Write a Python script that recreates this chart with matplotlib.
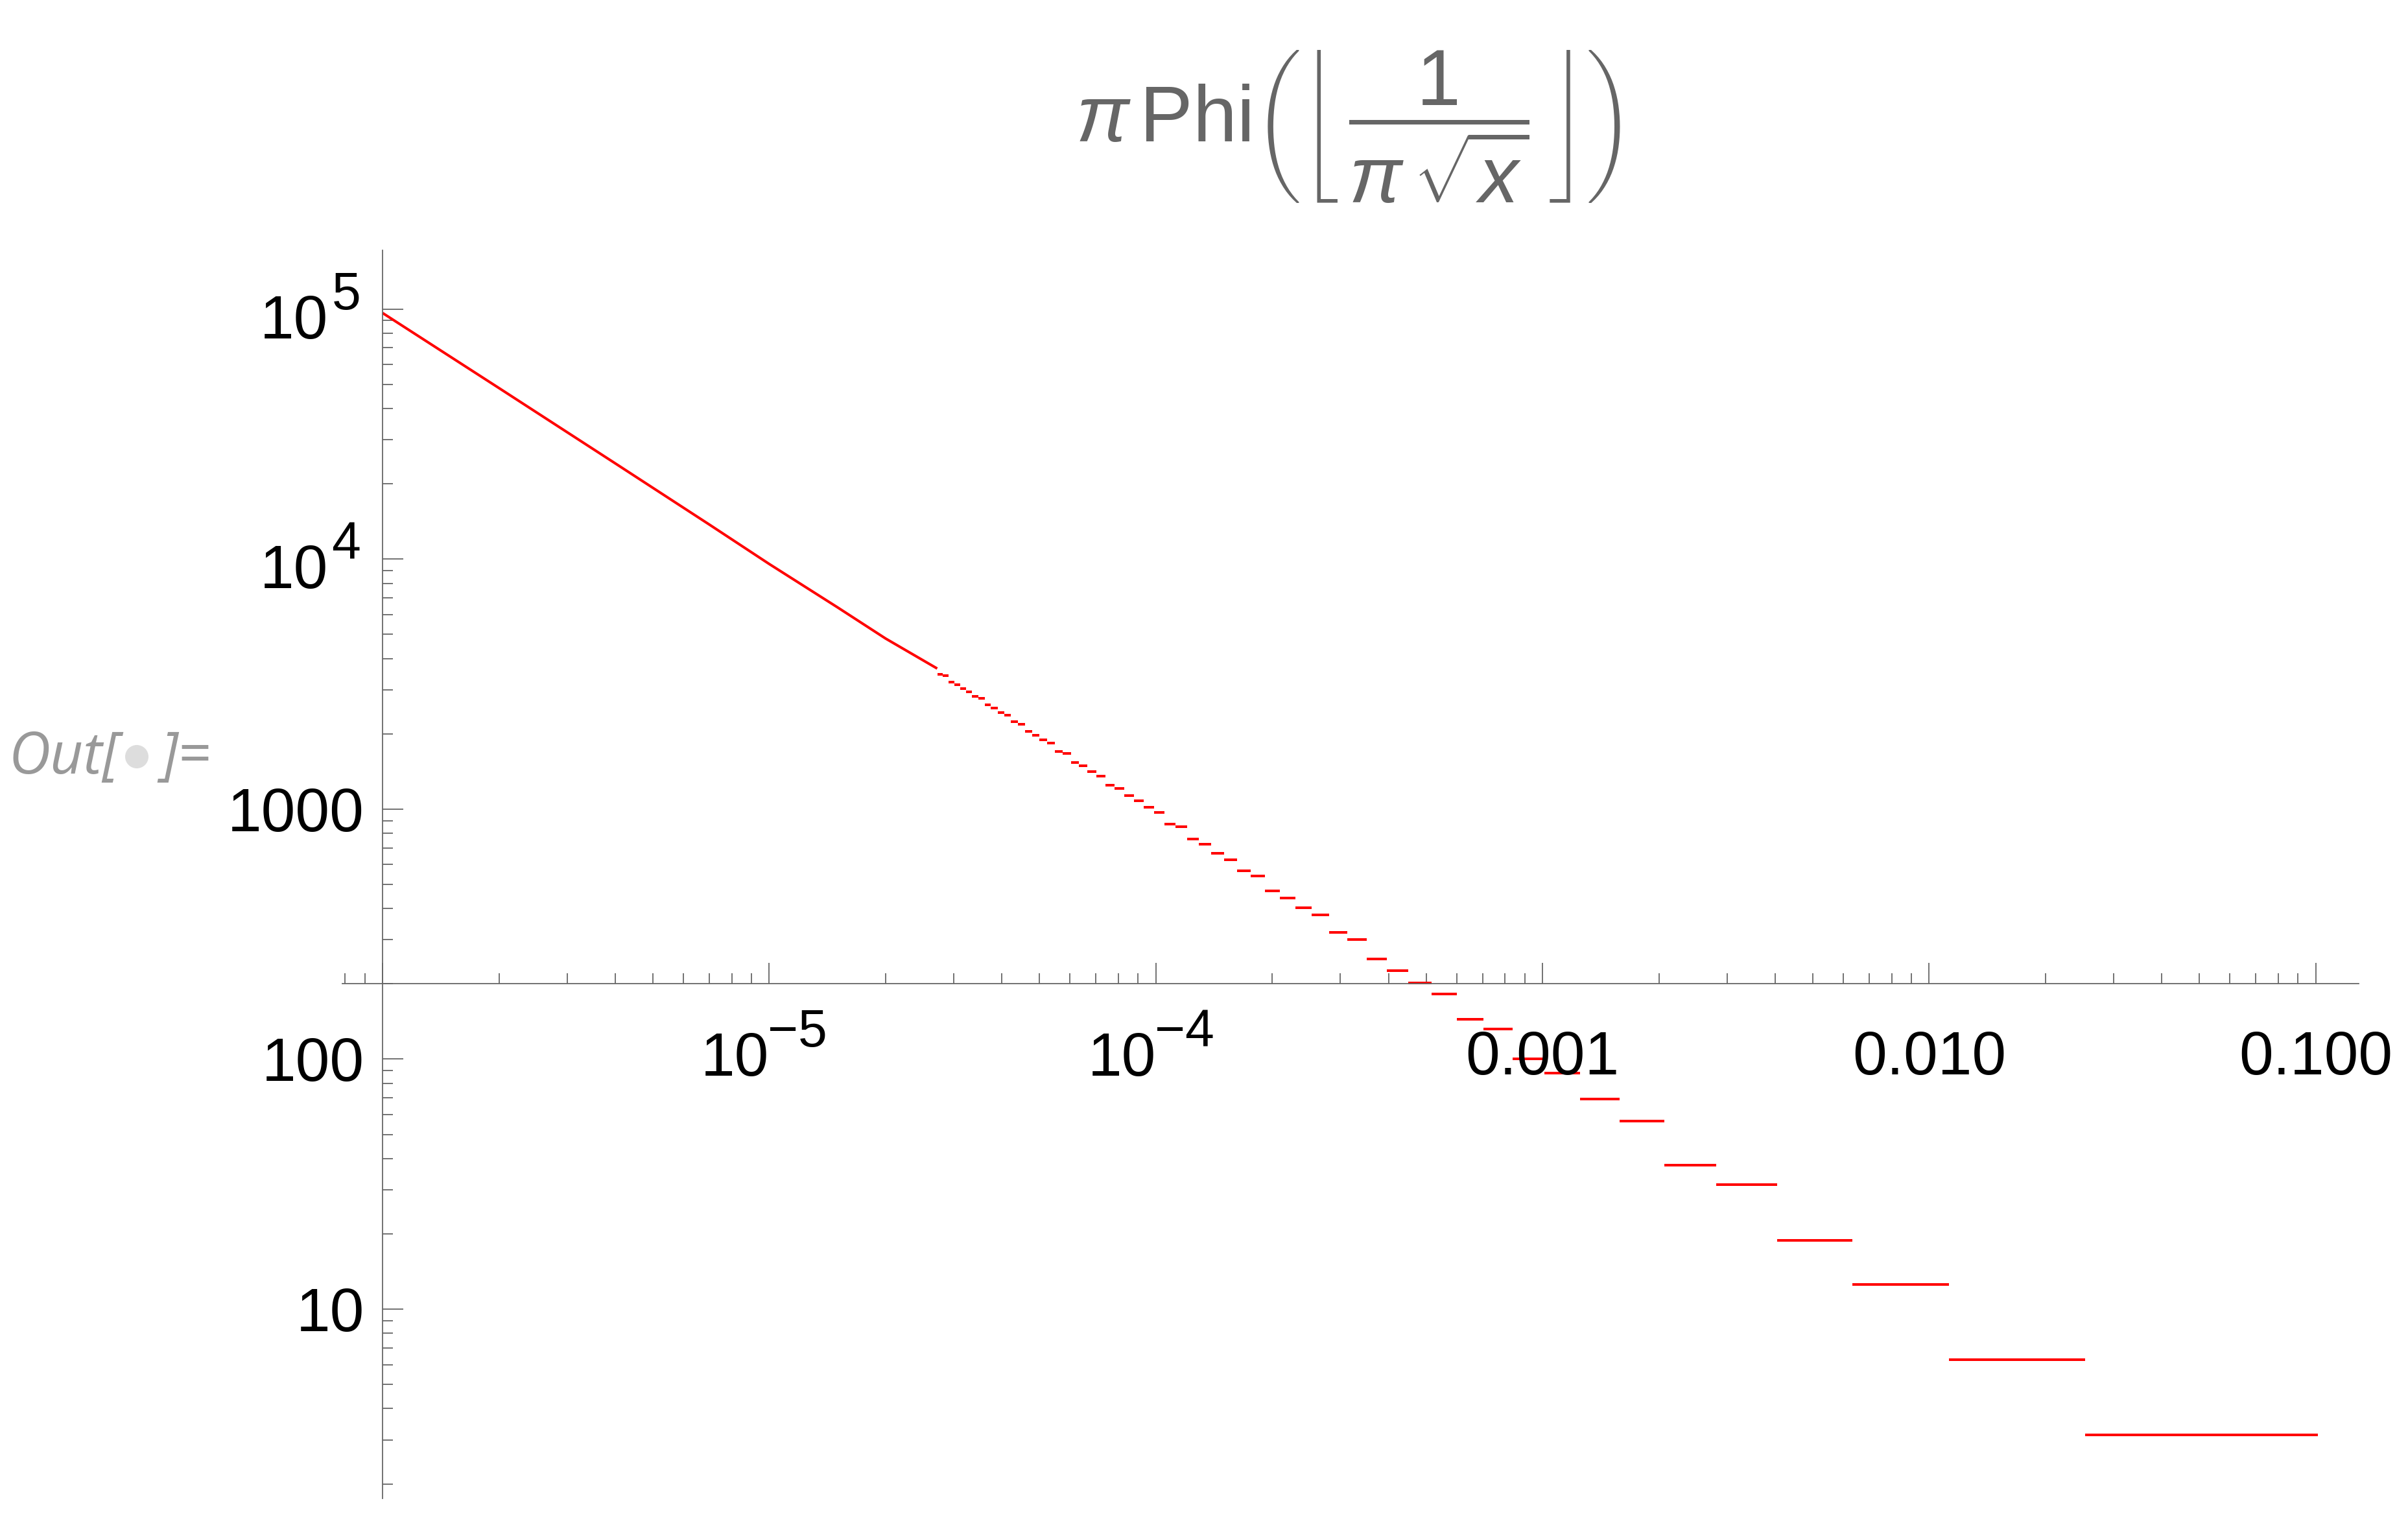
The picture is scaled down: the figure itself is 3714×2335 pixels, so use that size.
import numpy as np
import matplotlib
matplotlib.use("Agg")
import matplotlib.pyplot as plt
from matplotlib.ticker import LogLocator, NullFormatter, FixedLocator
from matplotlib.patches import Circle

plt.rcParams['font.family'] = ['Liberation Sans', 'DejaVu Sans']
plt.rcParams['mathtext.fontset'] = 'custom'
plt.rcParams['mathtext.rm'] = 'Liberation Sans'
plt.rcParams['mathtext.it'] = 'Liberation Sans:italic'

# step index n = floor(1/(pi sqrt x)) and summatory totient Phi(n) for the visible steps
step_n = list(range(1, 61))
step_phi = [1, 2, 4, 6, 10, 12, 18, 22, 28, 32,
            42, 46, 58, 64, 72, 80, 96, 102, 120, 128,
            140, 150, 172, 180, 200, 212, 230, 242, 270, 278,
            308, 324, 344, 360, 384, 396, 432, 450, 474, 490,
            530, 542, 584, 604, 628, 650, 696, 712, 754, 774,
            806, 830, 882, 900, 940, 964, 1000, 1028, 1086, 1102]

# dense part on the left, steps too small to see
dense_x = [1e-6, 2e-6, 4e-6, 7e-6, 1e-5, 1.5e-5, 2e-5, 2.72e-5]
dense_y = [96500, 48340, 24140, 13750, 9563, 6422, 4813, 3650]

y_major = [10, 100, 1000, 1e4, 1e5]
y_labels = ['10', '100', '1000', ('10', '4'), ('10', '5')]
x_major = [1e-5, 1e-4, 1e-3, 1e-2, 1e-1]
x_labels = [('10', '\u22125'), ('10', '\u22124'), '0.001', '0.010', '0.100']

W, H, DPI = 3714, 2335, 100
PT = 72.0 / DPI  # pixels -> points
axis_gray = '#666666'

fig = plt.figure(figsize=(W / DPI, H / DPI), dpi=DPI)
ax = fig.add_axes([528 / W, (H - 2310.7) / H, (3637.7 - 528) / W, (2310.7 - 386) / H])
ax.set_xscale('log')
ax.set_yscale('log')
ax.set_xlim(7.871e-7, 0.129)
ax.set_ylim(1.752, 171900)

n = np.array(step_n, dtype=float)
x_right = 1.0 / (np.pi * n) ** 2
x_left = 1.0 / (np.pi * (n + 1)) ** 2
y_step = np.pi * np.array(step_phi)
hl = ax.hlines(y_step, x_left, x_right, color='red', lw=4 * PT)
hl.set_capstyle('butt')
ax.plot(dense_x, dense_y, color='red', lw=4 * PT, solid_capstyle='butt')

# axes through the origin (1e-6, 200)
for s in ['top', 'right']:
    ax.spines[s].set_visible(False)
ax.spines['left'].set_position(('data', 1e-6))
ax.spines['bottom'].set_position(('data', 200))
for s in ['left', 'bottom']:
    ax.spines[s].set_color(axis_gray)
    ax.spines[s].set_linewidth(1.8 * PT)

ax.xaxis.set_major_locator(FixedLocator([1e-6] + x_major))
ax.xaxis.set_minor_locator(LogLocator(base=10, subs=range(2, 10), numticks=20))
ax.yaxis.set_major_locator(FixedLocator(y_major))
ax.yaxis.set_minor_locator(LogLocator(base=10, subs=range(2, 10), numticks=20))
ax.xaxis.set_major_formatter(NullFormatter())
ax.xaxis.set_minor_formatter(NullFormatter())
ax.yaxis.set_major_formatter(NullFormatter())
ax.yaxis.set_minor_formatter(NullFormatter())
ax.tick_params(which='major', direction='in', length=32 * PT, width=1.8 * PT, color=axis_gray)
ax.tick_params(which='minor', direction='in', length=16 * PT, width=1.8 * PT, color=axis_gray)

FS = 68
SUP = 58

# y tick labels
for v, lab in zip(y_major, y_labels):
    if isinstance(lab, tuple):
        ax.annotate(lab[0], xy=(1e-6, v), xytext=(-84 * PT, -45 * PT), textcoords='offset points',
                    ha='right', va='baseline', fontsize=FS, annotation_clip=False)
        ax.annotate(lab[1], xy=(1e-6, v), xytext=(-78.5 * PT, 0), textcoords='offset points',
                    ha='left', va='baseline', fontsize=SUP, annotation_clip=False)
    else:
        ax.annotate(lab, xy=(1e-6, v), xytext=(-28 * PT, -34 * PT), textcoords='offset points',
                    ha='right', va='baseline', fontsize=FS, annotation_clip=False)

# x tick labels
for v, lab in zip(x_major, x_labels):
    if isinstance(lab, tuple):
        ax.annotate(lab[0], xy=(v, 200), xytext=(0, -142 * PT), textcoords='offset points',
                    ha='right', va='baseline', fontsize=FS, annotation_clip=False)
        ax.annotate(lab[1], xy=(v, 200), xytext=(-2 * PT, -97 * PT), textcoords='offset points',
                    ha='left', va='baseline', fontsize=SUP, annotation_clip=False)
    else:
        ax.annotate(lab, xy=(v, 200), xytext=(0, -140 * PT), textcoords='offset points',
                    ha='center', va='baseline', fontsize=FS, annotation_clip=False)

# title
fig.text(2079 / W, 1 - 195 / H,
         r'$\pi\,\mathrm{Phi}\left(\left\lfloor\,\dfrac{1}{\pi\,\sqrt{x}}\,\right\rfloor\right)$',
         ha='center', va='center', fontsize=88, color=axis_gray)

# Out[ ]= cell label
out_font = ['Open Sans', 'DejaVu Sans']
fig.text(13 / W, 1 - 1193 / H, 'Out[', ha='left', va='baseline', fontsize=64,
         style='italic', color='#999999', family=out_font)
fig.text(248 / W, 1 - 1193 / H, ']=', ha='left', va='baseline', fontsize=64,
         style='italic', color='#999999', family=out_font)
fig.add_artist(Circle((211 / DPI, (H - 1167) / DPI), 18 / DPI,
                      transform=fig.dpi_scale_trans, color='#dddddd', lw=0))

fig.savefig('out.png', dpi=DPI, facecolor='white')
